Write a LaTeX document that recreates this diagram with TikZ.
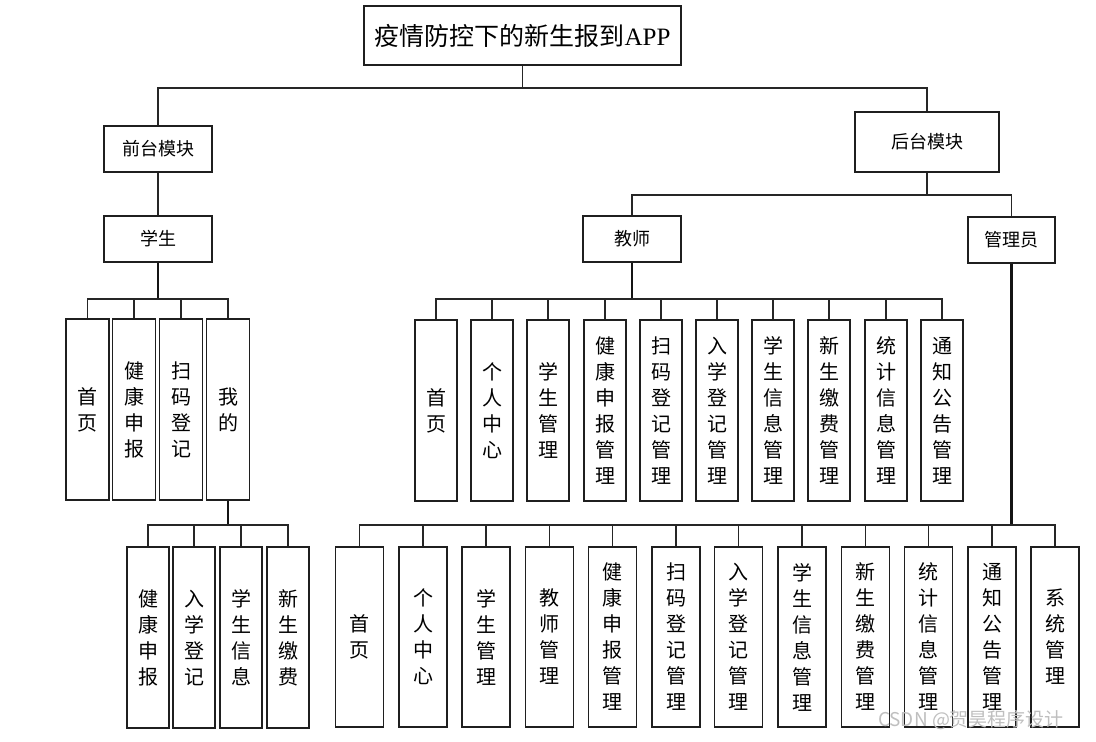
\documentclass[tikz,border=0pt]{standalone}
\usepackage{fontspec}
\setmainfont{Noto Sans CJK SC}
\newfontfamily\serifla{Liberation Serif}
\usetikzlibrary{calc}
\tikzset{
 box/.style={draw=black!88, line width=1.8pt, fill=white, inner sep=0pt, font=\fontsize{18}{22}\selectfont},
 vbox/.style={box, align=center, font=\fontsize{20}{26}\selectfont},
 ln/.style={line width=1.5pt, draw=black!85},
 stem/.style={line width=2.4pt, draw=black!92},
}
\begin{document}
\begin{tikzpicture}[x=1pt,y=-1pt]
\useasboundingbox (0,0) rectangle (1096,742);
% branch levels
\coordinate (top) at (0,88);
\coordinate (b1) at (0,299);
\coordinate (b2) at (0,195);
\coordinate (b3) at (0,525);
% top nodes
\node[box, minimum width=317pt, minimum height=59pt, font=\fontsize{25}{30}\selectfont] (title) at (522.5,35.5) {疫情防控下的新生报到{\serifla APP}};
\node[box, minimum width=108pt, minimum height=46pt] (fm) at (158,149) {前台模块};
\node[box, minimum width=144pt, minimum height=60pt] (bm) at (927,142) {后台模块};
\node[box, minimum width=108pt, minimum height=46pt] (stu) at (158,239) {学生};
\node[box, minimum width=98pt, minimum height=46pt] (tch) at (632,239) {教师};
\node[box, minimum width=87pt, minimum height=46pt] (adm) at (1011.5,240) {管理员};
% student children
\foreach \i/\x/\t in {1/87.5/{首\\页},2/134/{健\\康\\申\\报},3/181/{扫\\码\\登\\记},4/228/{我\\的}}
  \node[vbox, minimum width=43pt, minimum height=181pt] (s\i) at (\x,409.5) {\t};
% my children
\foreach \i/\x/\t in {1/148/{健\\康\\申\\报},2/194/{入\\学\\登\\记},3/241/{学\\生\\信\\息},4/288/{新\\生\\缴\\费}}
  \node[vbox, minimum width=42pt, minimum height=181pt] (m\i) at (\x,637.5) {\t};
% teacher children
\foreach \i/\x/\t in {1/436/{首\\页},2/492/{个\\人\\中\\心},3/548/{学\\生\\管\\理},4/605/{健\\康\\申\\报\\管\\理},5/661/{扫\\码\\登\\记\\管\\理},6/717/{入\\学\\登\\记\\管\\理},7/773/{学\\生\\信\\息\\管\\理},8/829/{新\\生\\缴\\费\\管\\理},9/886/{统\\计\\信\\息\\管\\理},10/942/{通\\知\\公\\告\\管\\理}}
  \node[vbox, minimum width=42pt, minimum height=181pt] (t\i) at (\x,410.5) {\t};
% admin children
\foreach \i/\x/\t in {1/359.5/{首\\页},2/423/{个\\人\\中\\心},3/486/{学\\生\\管\\理},4/549.5/{教\\师\\管\\理},5/612.5/{健\\康\\申\\报\\管\\理},6/676/{扫\\码\\登\\记\\管\\理},7/738.5/{入\\学\\登\\记\\管\\理},8/802/{学\\生\\信\\息\\管\\理},9/865.5/{新\\生\\缴\\费\\管\\理},10/928.5/{统\\计\\信\\息\\管\\理},11/992/{通\\知\\公\\告\\管\\理},12/1055/{系\\统\\管\\理}}
  \node[vbox, minimum width=48pt, minimum height=180pt] (a\i) at (\x,637) {\t};
% connectors: top
\draw[ln] (title.south) -- (title.south |- top);
\draw[ln] (fm.north) |- (bm.north |- top) -- (bm.north);
\draw[ln] (fm.south) -- (stu.north);
\draw[ln] (bm.south) -- (bm.south |- b2);
\draw[ln] (tch.north) |- (adm.north |- b2) -- (adm.north);
% student
\draw[stem] (stu.south) -- (stu.south |- b1);
\draw[ln] (s1.north) |- (s4.north |- b1) -- (s4.north);
\foreach \i in {2,3} \draw[ln] (s\i.north) -- (s\i.north |- b1);
% my
\draw[stem] (s4.south) -- (s4.south |- b3);
\draw[ln] (m1.north) |- (m4.north |- b3) -- (m4.north);
\foreach \i in {2,3} \draw[ln] (m\i.north) -- (m\i.north |- b3);
% teacher
\draw[stem] (tch.south) -- (tch.south |- b1);
\draw[ln] (t1.north) |- (t10.north |- b1) -- (t10.north);
\foreach \i in {2,...,9} \draw[ln] (t\i.north) -- (t\i.north |- b1);
% admin
\draw[stem] (adm.south) -- (adm.south |- b3);
\draw[ln] (a1.north) |- (a12.north |- b3) -- (a12.north);
\foreach \i in {2,...,11} \draw[ln] (a\i.north) -- (a\i.north |- b3);
% watermark
\node[text=gray!50, font=\fontsize{19}{22}\selectfont] (wm) at (971,720) {CSDN @贺昊程序设计};
\end{tikzpicture}
\end{document}
